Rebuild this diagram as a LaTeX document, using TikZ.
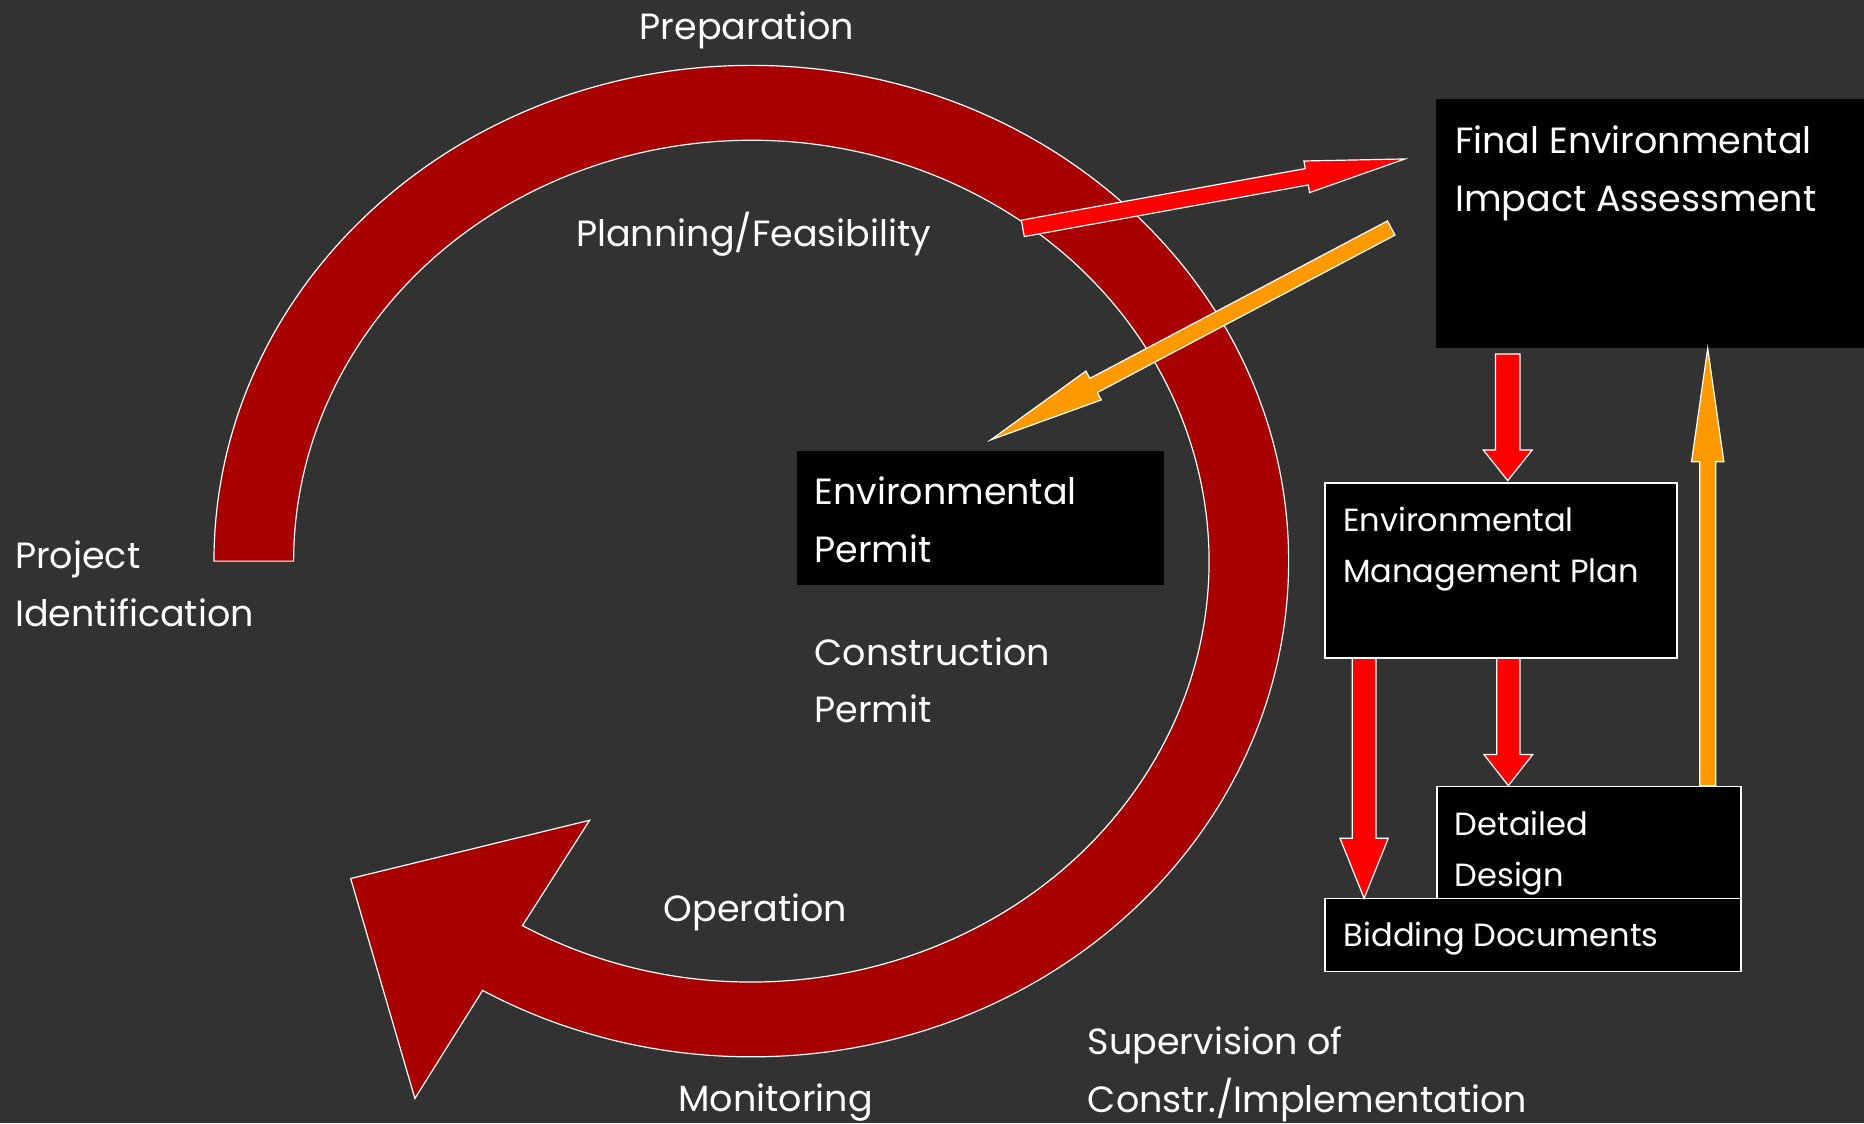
\documentclass[tikz,border=0pt]{standalone}
\usepackage{fontspec}
\setmainfont{Poppins}
\usetikzlibrary{calc}
\definecolor{bgc}{RGB}{50,50,50}
\definecolor{cyc}{RGB}{168,0,0}
\definecolor{arrred}{RGB}{255,0,0}
\definecolor{arrorange}{RGB}{255,153,0}
\newcommand\mainsz{\fontsize{30.7}{48.5}\selectfont}
\newcommand\smallsz{\fontsize{27}{43}\selectfont}
\newcommand\twoline[2]{\vtop{\hbox{#1}\hbox{#2}}}
% #1 start, #2 tip, #3 half shaft, #4 half head, #5 head length, #6 colour
\newcommand\blockarr[6]{%
  \coordinate (ba-h) at ($(#2)!#5!(#1)$);
  \draw[blockarrow, fill=#6]
    ($(#1)!#3!90:(#2)$) -- ($(ba-h)!#3!-90:(#1)$) -- ($(ba-h)!#4!-90:(#1)$) -- (#2)
    -- ($(ba-h)!#4!90:(#1)$) -- ($(ba-h)!#3!90:(#1)$) -- ($(#1)!#3!-90:(#2)$) -- cycle;
}
\begin{document}
\begin{tikzpicture}[x=1pt,y=-1pt,
  lbl/.style={text=white, anchor=base west, inner sep=0pt, font=\mainsz},
  lblsmall/.style={lbl, font=\smallsz},
  darkbox/.style={fill=black, draw=none, inner sep=0pt, anchor=north west},
  wbox/.style={fill=black, draw=white, line width=1.3pt, inner sep=0pt, anchor=north west},
  blockarrow/.style={draw=white, line width=1pt, line join=miter},
  cycle arrow/.style={fill=cyc, draw=white, line width=1pt, line join=miter}]
\fill[bgc] (0,0) rectangle (1568,945);
\useasboundingbox (0,0) rectangle (1568,945);

% big cycle arrow
\draw[cycle arrow] (180,472) arc[start angle=180, end angle=480, x radius=452, y radius=417]
  -- (349,924) -- (295,739) -- (496,690) -- (439.5,778.6)
  arc[start angle=480, end angle=180, x radius=385, y radius=354] -- cycle;

% diagonal arrows
\coordinate (ra-s) at (860.4,192.1);
\coordinate (ra-e) at (1181.9,133.7);
\coordinate (oa-s) at (1170.3,191.8);
\coordinate (oa-e) at (833.3,370.1);
\blockarr{ra-s}{ra-e}{7pt}{13.5pt}{84pt}{arrred}
\blockarr{oa-s}{oa-e}{6.75pt}{13.75pt}{98pt}{arrorange}

% boxes
\node[darkbox, minimum width=370, minimum height=209.2] (eia) at (1208,83) {};
\node[darkbox, minimum width=309, minimum height=112.5] (ep) at (670,379) {};
\node[wbox, minimum width=296, minimum height=147.5] (emp) at (1113.8,405.5) {};
\node[wbox, minimum width=255.7, minimum height=94.1] (dd) at (1208,661) {};
\node[wbox, minimum width=349.9, minimum height=61.4] (bd) at (1113.8,755.1) {};

% vertical arrows
\coordinate (v1-s) at (1268.3,297.8);
\coordinate (v1-e) at (1268.3,404.3);
\coordinate (v2-s) at (1147.5,553.8);
\coordinate (v2-e) at (1147.5,755.7);
\coordinate (v3-s) at (1268.8,553.8);
\coordinate (v3-e) at (1268.8,660.9);
\coordinate (v4-s) at (1436.5,661);
\coordinate (v4-e) at (1436.5,293);
\blockarr{v1-s}{v1-e}{10.25pt}{20.6pt}{25.8pt}{arrred}
\blockarr{v2-s}{v2-e}{10pt}{20.3pt}{50.5pt}{arrred}
\blockarr{v3-s}{v3-e}{9.8pt}{20.6pt}{26.3pt}{arrred}
\blockarr{v4-s}{v4-e}{6.75pt}{13.6pt}{95.4pt}{arrorange}

% labels
\node[lbl] (prep) at (538,33.1) {Preparation};
\node[lbl] (plan) at (484.5,207.5) {Planning/Feasibility};
\node[lbl] (pid) at (12.6,478.1) {\twoline{Project}{Identification}};
\node[lbl] (ept) at (685,424.8) {\twoline{Environmental}{Permit}};
\node[lbl] (cp) at (685,559.4) {\twoline{Construction}{Permit}};
\node[lbl] (op) at (558.2,775.3) {Operation};
\node[lbl] (mon) at (570.6,935.1) {Monitoring};
\node[lbl] (sup) at (914.9,887.4) {\twoline{Supervision of}{Constr./Implementation}};
\node[lbl] (eiat) at (1223.9,129) {\twoline{Final Environmental}{Impact Assessment}};
\node[lblsmall] (empt) at (1129.6,447.2) {\twoline{Environmental}{Management Plan}};
\node[lblsmall] (ddt) at (1223.5,702.4) {\twoline{Detailed}{Design}};
\node[lblsmall] (bdt) at (1130.2,795.8) {Bidding Documents};
\end{tikzpicture}
\end{document}
